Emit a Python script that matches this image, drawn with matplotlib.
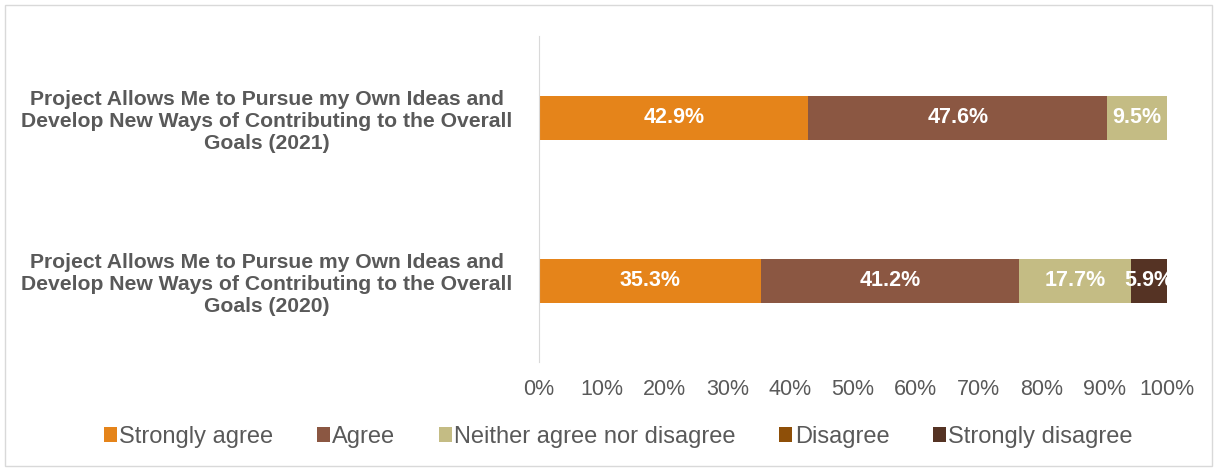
import numpy as np
import matplotlib.pyplot as plt
from matplotlib.patches import Rectangle

categories = ["Project Allows Me to Pursue my Own Ideas and\nDevelop New Ways of Contributing to the Overall\nGoals (2020)",
              "Project Allows Me to Pursue my Own Ideas and\nDevelop New Ways of Contributing to the Overall\nGoals (2021)"]
responses = ["Strongly agree", "Agree", "Neither agree nor disagree", "Disagree", "Strongly disagree"]
strongly_agree = [35.3, 42.9]
agree = [41.2, 47.6]
neither = [17.7, 9.5]
disagree = [0.0, 0.0]
strongly_disagree = [5.9, 0.0]
colors = ["#E5841A", "#8B5742", "#C4BC84", "#8E4F08", "#553324"]

series = [strongly_agree, agree, neither, disagree, strongly_disagree]

fig = plt.figure(figsize=(12.17, 4.69), dpi=100)
ax = fig.add_axes([0.4429, 0.228, 0.516, 0.695])
fig.patches.append(Rectangle((0.004, 0.006), 0.992, 0.984, transform=fig.transFigure,
                             fill=False, edgecolor="#D9D9D9", lw=1))

y = np.arange(len(categories))
left = np.zeros(len(categories))
for vals, name, c in zip(series, responses, colors):
    vals = np.array(vals)
    bars = ax.barh(y, vals, left=left, height=0.27, color=c, label=name)
    for b, v in zip(bars, vals):
        if v > 0:
            ax.text(b.get_x() + b.get_width() / 2, b.get_y() + b.get_height() / 2,
                    f"{v:.1f}%", ha="center", va="center", color="white",
                    fontsize=15.5, fontweight="bold", family="Liberation Sans")
    left += vals

ax.set_xlim(0, 100)
ax.set_ylim(-0.5, 1.5)
ax.set_xticks(np.arange(0, 101, 10))
ax.set_xticklabels([f"{t}%" for t in range(0, 101, 10)], fontsize=15.5, color="#595959",
                   family="Liberation Sans")
ax.set_yticks(y)
ax.set_yticklabels(categories, fontsize=15.2, color="#595959", fontweight="bold",
                   family="Liberation Sans", multialignment="center", linespacing=1.2)
ax.tick_params(axis="both", length=0)
ax.tick_params(axis="y", pad=19)
ax.tick_params(axis="x", pad=12)
for s in ["top", "right", "bottom"]:
    ax.spines[s].set_visible(False)
ax.spines["left"].set_color("#D9D9D9")

leg = fig.legend(loc="lower center", bbox_to_anchor=(0.508, 0.0), ncol=5, frameon=False,
                 prop={"family": "Liberation Sans", "size": 17},
                 handlelength=0.55, handleheight=0.55, handletextpad=0.1, columnspacing=1.85)
for t in leg.get_texts():
    t.set_color("#595959")

fig.savefig("out.png", dpi=100)
